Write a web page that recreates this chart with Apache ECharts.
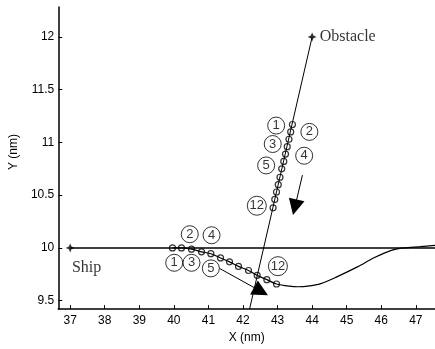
<!DOCTYPE html>
<html><head><meta charset="utf-8">
<script src="https://cdn.jsdelivr.net/npm/echarts@6/dist/echarts.min.js"></script>
<style>html,body{margin:0;padding:0;background:#fff}#c{width:435px;height:349px}</style>
</head><body><div id="c"></div>
<script>
// ---- data ----
const xTicks = [37, 38, 39, 40, 41, 42, 43, 44, 45, 46, 47];
const yTicks = [9.5, 10, 10.5, 11, 11.5, 12];
const shipStart = [[37, 10]];
const obstacleStart = [[44, 12]];
const shipCourse = [[37, 10], [47.555, 10]];
const obstacleCourse = [[44, 12], [42.19, 9.42]];
const shipPositions = [
  [39.96, 10.0], [40.22, 10.0], [40.51, 9.988], [40.80, 9.963], [41.07, 9.945], [41.35, 9.905],
  [41.61, 9.868], [41.87, 9.825], [42.16, 9.786], [42.41, 9.740], [42.69, 9.699], [42.97, 9.658]
];
const shipTrackAfter = [
  [43.34, 9.637], [43.6, 9.632], [43.87, 9.637], [44.25, 9.661], [44.73, 9.728], [45.31, 9.820],
  [45.79, 9.906], [46.27, 9.975], [46.65, 10.0], [47.13, 10.012], [47.555, 10.025]
];
const obstaclePositions = [
  [43.43, 11.17], [43.38, 11.10], [43.33, 11.03], [43.28, 10.96], [43.23, 10.89], [43.18, 10.82],
  [43.12, 10.75], [43.07, 10.67], [43.02, 10.60], [42.97, 10.53], [42.92, 10.46], [42.87, 10.38]
];
const shipStepNames = ['1', '2', '3', '4', '5', '12'];
const shipStepLabelPos = [[40.01, 9.859], [40.46, 10.13], [40.51, 9.859], [41.09, 10.12], [41.07, 9.806], [43.01, 9.827]];
const obstacleStepNames = ['1', '2', '3', '4', '5', '12'];
const obstacleStepLabelPos = [[42.96, 11.16], [43.92, 11.10], [42.86, 10.985], [43.77, 10.874], [42.67, 10.782], [42.40, 10.40]];
const shipArrow = [[41.32, 9.806], [42.52, 9.588]];
const obstacleArrow = [[43.72, 10.69], [43.50, 10.385]];
const textLabels = [
  { text: 'Obstacle', at: [44.22, 12] },
  { text: 'Ship', at: [37.05, 9.81] }
];

const star = 'path://M0,-10 L3,-3 L10,0 L3,3 L0,10 L-3,3 L-10,0 L-3,-3 Z';
const blk = '#000';
const chart = echarts.init(document.getElementById('c'), null, { renderer: 'canvas' });

function labelItems(names, pos) {
  return names.map((n, i) => ({ name: n, value: pos[i], symbolSize: n.length > 1 ? 19 : 17 }));
}

chart.setOption({
  animation: false,
  backgroundColor: '#fff',
  grid: { left: 56, right: 0, top: 7, bottom: 32 },
  xAxis: {
    type: 'value', min: 36.655, max: 47.555,
    name: 'X (nm)', nameLocation: 'middle', nameGap: 20,
    nameTextStyle: { color: blk, fontSize: 12, fontFamily: 'Liberation Sans, Arial' },
    axisLine: { show: true, onZero: false, lineStyle: { color: blk, width: 1.5 } },
    axisTick: { show: true, inside: true, length: 4, lineStyle: { color: blk }, customValues: xTicks },
    axisLabel: { color: blk, fontSize: 12, margin: 6, fontFamily: 'Liberation Sans, Arial', customValues: xTicks },
    splitLine: { show: false }
  },
  yAxis: {
    type: 'value', min: 9.42, max: 12.284,
    name: 'Y (nm)', nameLocation: 'middle', nameGap: 34, nameRotate: 90,
    nameTextStyle: { color: blk, fontSize: 12, fontFamily: 'Liberation Sans, Arial', padding: [0, 0, 0, 12] },
    axisLine: { show: true, onZero: false, lineStyle: { color: blk, width: 1.5 } },
    axisTick: { show: true, inside: true, length: 4, lineStyle: { color: blk }, customValues: yTicks },
    axisLabel: { color: blk, fontSize: 12, margin: 4, fontFamily: 'Liberation Sans, Arial', customValues: yTicks },
    splitLine: { show: false }
  },
  series: [
    { type: 'line', data: shipCourse, symbol: 'none', lineStyle: { color: blk, width: 1.5 }, silent: true },
    { type: 'line', data: obstacleCourse, symbol: 'none', lineStyle: { color: blk, width: 1 }, silent: true },
    { type: 'line', data: shipPositions.concat(shipTrackAfter), smooth: 0.3, symbol: 'none',
      lineStyle: { color: blk, width: 1.2 }, silent: true },
    { type: 'scatter', data: shipPositions, symbol: 'circle', symbolSize: 6,
      itemStyle: { color: 'rgba(255,255,255,0)', borderColor: blk, borderWidth: 1.2 }, z: 5 },
    { type: 'scatter', data: obstaclePositions, symbol: 'circle', symbolSize: 6,
      itemStyle: { color: 'rgba(255,255,255,0)', borderColor: blk, borderWidth: 1.2 }, z: 5 },
    { type: 'scatter', data: shipStart.concat(obstacleStart), symbol: star, symbolSize: 9,
      itemStyle: { color: blk }, z: 6 },
    { type: 'scatter', data: labelItems(shipStepNames, shipStepLabelPos).concat(labelItems(obstacleStepNames, obstacleStepLabelPos)),
      symbol: 'circle',
      itemStyle: { color: 'rgba(255,255,255,0)', borderColor: blk, borderWidth: 1 },
      label: { show: true, position: 'inside', formatter: '{b}', color: blk, fontSize: 13,
        fontFamily: 'Liberation Sans, Arial' }, z: 6 },
    { type: 'lines', coordinateSystem: 'cartesian2d', polyline: false,
      data: [{ coords: shipArrow }, { coords: obstacleArrow }],
      symbol: ['none', 'triangle'], symbolSize: [11, 16],
      lineStyle: { color: blk, width: 1, opacity: 1 }, itemStyle: { color: blk }, z: 7 },
    { type: 'scatter', data: textLabels.map(t => ({ name: t.text, value: t.at })), symbolSize: 0,
      label: { show: true, position: 'right', distance: 0, formatter: '{b}', color: blk, fontSize: 16,
        fontFamily: 'Liberation Serif, Times New Roman, serif' }, z: 8 }
  ]
});
</script></body></html>
